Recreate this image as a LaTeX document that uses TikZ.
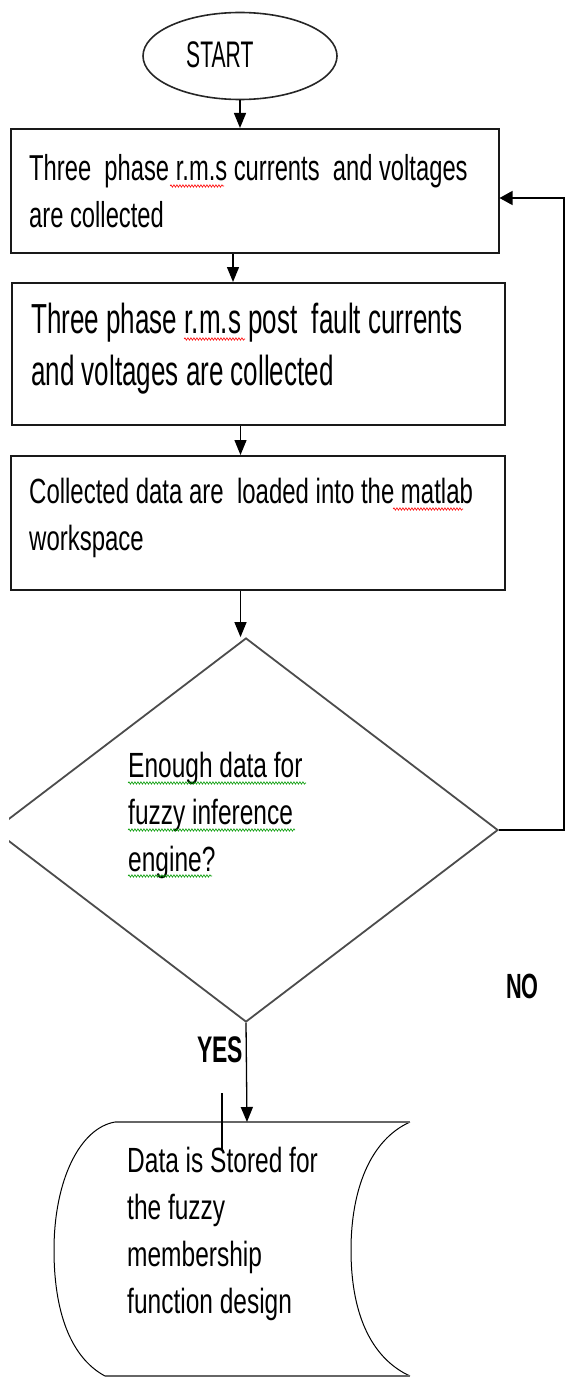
\documentclass[tikz,border=0pt]{standalone}
\usepackage{fontspec}
\setmainfont{Liberation Sans}
\newfontfamily\fS{Liberation Sans}[FakeStretch=0.57]
\newfontfamily\fB{Liberation Sans}[FakeStretch=0.66]
\newfontfamily\fC{Liberation Sans}[FakeStretch=0.62]
\newfontfamily\fD{Liberation Sans}[FakeStretch=0.70]
\newfontfamily\fE{Liberation Sans}[FakeStretch=0.685]
\newfontfamily\fY{Liberation Sans}[FakeStretch=0.62]
\usetikzlibrary{shapes.geometric, arrows.meta, decorations.pathmorphing}
\newcommand\mlines[1]{\vtop{\halign{##\hfil\cr#1\crcr}}}
\begin{document}
\begin{tikzpicture}[x=1pt,y=-1pt,
  box/.style={draw=black!90, line width=2pt, inner sep=0pt},
  txt/.style={inner sep=0pt, anchor=base west},
  conn/.style={line width=1.3pt},
  arr/.style={conn, -{Triangle[length=15pt,width=12pt]}},
  arrh/.style={conn, -{Triangle[length=13pt,width=14pt]}},
  redsq/.style={draw=red, decorate, decoration={snake, amplitude=1.2pt, segment length=3pt}, line width=0.6pt},
  grnsq/.style={draw=green!60!black, decorate, decoration={snake, amplitude=1.2pt, segment length=3pt}, line width=0.6pt}]
\useasboundingbox (0,0) rectangle (567,1378);

% START
\node[ellipse, draw=black!85, line width=1.6pt, minimum width=194pt, minimum height=87pt, inner sep=0pt] (start) at (240,56) {};
\node[txt] (starttxt) at (186,68) {\fontsize{37}{44}\fS START};

% box 1
\node[box, minimum width=488pt, minimum height=124pt] (box1) at (254.5,191) {};
\node[txt] (t1) at (29,180) {\fontsize{36}{47}\fB\mlines{Three\ \ phase r.m.s currents\ \ and voltages\cr are collected}};

% box 2
\node[box, minimum width=493pt, minimum height=142pt] (box2) at (258.3,354) {};
\node[txt] (t2) at (31,333) {\fontsize{42}{52}\fC\mlines{Three phase r.m.s post\ \ fault currents\cr and voltages are collected}};

% box 3
\node[box, minimum width=494pt, minimum height=134pt] (box3) at (258,523) {};
\node[txt] (t3) at (29,503) {\fontsize{35}{47}\fE\mlines{Collected data are\ \ loaded into the matlab\cr workspace}};

% decision
\node[diamond, draw=black!70, line width=1.8pt, inner sep=0pt, minimum width=504pt, minimum height=384pt] (dia) at (246,830) {};
\fill[white] (-2,808) rectangle (8.5,852);
\node[txt] (t4) at (128,777) {\fontsize{35}{47}\fD\mlines{Enough data for\cr fuzzy inference\cr engine?}};

% stored data
\draw[line width=1pt] (410,1122)
  .. controls (370,1140) and (351,1190) .. (351,1250)
  .. controls (351,1320) and (375,1360) .. (410,1376);
\draw[line width=1pt] (105,1376)
  .. controls (75,1360) and (54,1320) .. (54,1250)
  .. controls (54,1180) and (80,1128) .. (115,1122);
\draw[draw=black!60, line width=2.2pt] (115,1122) -- (410,1122);
\draw[draw=black!60, line width=2.2pt] (105,1376) -- (410,1376);
\coordinate (storetop) at (247,1122);
\node[txt] (t5) at (127,1172) {\fontsize{35}{47}\fD\mlines{Data is Stored for\cr the fuzzy\cr membership\cr function design}};

% labels
\node[txt] (yes) at (197,1062) {\fontsize{37}{44}\fY\bfseries YES};
\node[txt] (no) at (506,998) {\fontsize{35}{44}\fY\bfseries NO};

% connectors
\coordinate (c1) at (233,0);
\coordinate (c2) at (240.5,0);
\coordinate (c3) at (240.5,0);
\draw[arr] (start.south) -- (start.south |- box1.north);
\draw[arr] (box1.south -| c1) -- (box2.north -| c1);
\draw[arr] (box2.south -| c2) -- (box3.north -| c2);
\draw[arr] (box3.south -| c3) -- (c3 |- dia.north);
\draw[arr] (dia.south) -- (storetop);
\coordinate (fb1) at (564,830);
\coordinate (fb2) at (564,198);
\draw[arrh] (dia.east) -- (fb1) -- (fb2) -- (box1.east |- fb2);
\draw[line width=2pt] (222,1093) -- (222,1150);

% spell-check squiggles
\draw[redsq] (170,186) -- (224,186);
\draw[redsq] (184,339) -- (245,339);
\draw[redsq] (393,509) -- (463,509);
\draw[grnsq] (128,783) -- (306,783);
\draw[grnsq] (128,830) -- (295,830);
\draw[grnsq] (128,876) -- (212,876);
\end{tikzpicture}
\end{document}
